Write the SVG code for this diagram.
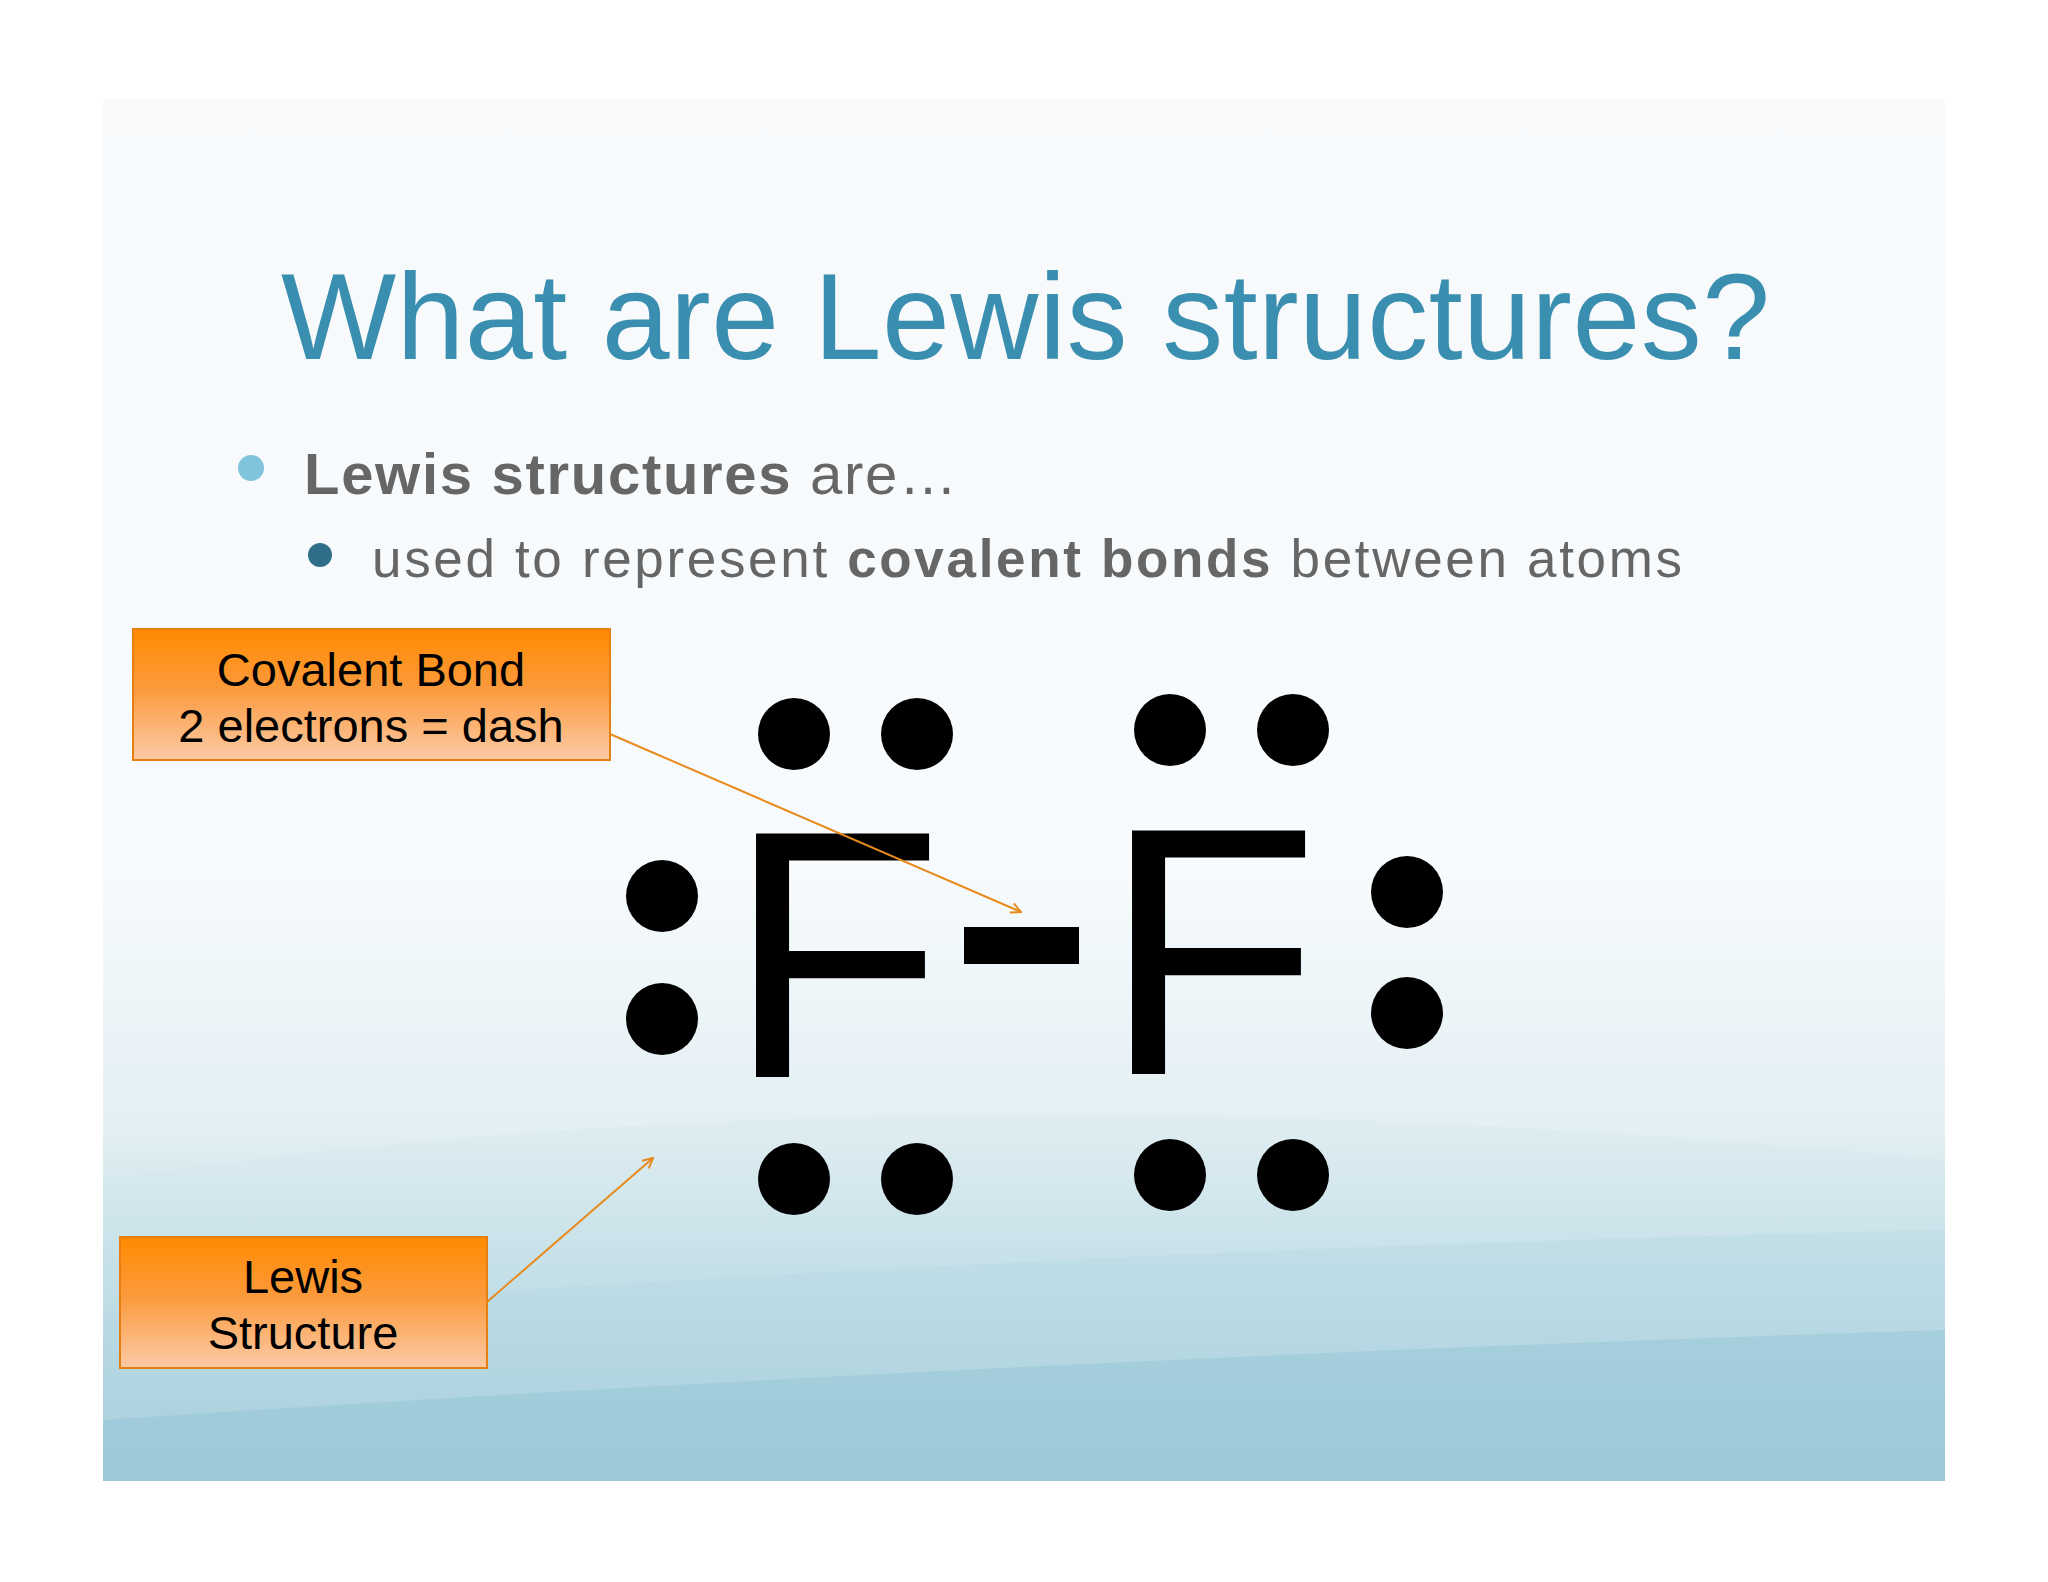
<svg xmlns="http://www.w3.org/2000/svg" width="2048" height="1582" viewBox="0 0 2048 1582">
<defs>
<linearGradient id="bg" x1="0" y1="0" x2="0" y2="1">
<stop offset="0" stop-color="#f7f9fb"/><stop offset="0.55" stop-color="#f8fbfd"/><stop offset="0.75" stop-color="#e2eff3"/><stop offset="1" stop-color="#86bdcf"/>
</linearGradient>
<linearGradient id="org" x1="0" y1="0" x2="0" y2="1">
<stop offset="0" stop-color="#ff8a00"/><stop offset="0.45" stop-color="#fb9a3c"/><stop offset="1" stop-color="#fccaa6"/>
</linearGradient>
<marker id="ah" viewBox="0 0 12 12" refX="11" refY="6" markerWidth="12" markerHeight="12" markerUnits="userSpaceOnUse" orient="auto">
<path d="M1,1 L11,6 L1,11" fill="none" stroke="#e8891c" stroke-width="2"/>
</marker>
<style>
.t{font-family:"Liberation Sans",Arial,sans-serif}
.box{fill:url(#org);stroke:#e57f12;stroke-width:2}
.bl{font-family:"Liberation Sans",Arial,sans-serif;font-size:47px;fill:#000;text-anchor:middle}
.dot{fill:#000}
.F{font-family:"Liberation Sans",Arial,sans-serif;font-size:354px;fill:#000}
.con{stroke:#e8891c;stroke-width:2;fill:none;marker-end:url(#ah)}
</style>
</defs>
<rect width="2048" height="1582" fill="#fff"/>
<rect x="103" y="99" width="1842" height="1382" fill="url(#bg)"/>
<path d="M103,1180 Q900,1060 1945,1160 L1945,1481 L103,1481Z" fill="#d3e7ee" opacity="0.35"/>
<path d="M103,1320 Q1000,1250 1945,1230 L1945,1481 L103,1481Z" fill="#b3d6e1" opacity="0.35"/>
<path d="M103,1420 Q1000,1360 1945,1330 L1945,1481 L103,1481Z" fill="#8cc0d1" opacity="0.4"/>
<text class="t" x="281" y="359" font-size="122" fill="#3a8fb0" textLength="1489" lengthAdjust="spacing">What are Lewis structures?</text>
<circle cx="251" cy="468" r="13" fill="#7fc4dc"/>
<text class="t" x="304" y="494" font-size="58" fill="#666" textLength="653" lengthAdjust="spacing"><tspan font-weight="bold">Lewis structures</tspan> are…</text>
<circle cx="320" cy="555" r="12" fill="#2f6f8a"/>
<text class="t" x="372" y="577" font-size="53" fill="#666" textLength="1310" lengthAdjust="spacing">used to represent <tspan font-weight="bold">covalent bonds</tspan> between atoms</text>
<g id="lewis">
<text class="F" x="727" y="1077">F</text>
<text class="F" x="1103" y="1074">F</text>
<rect x="964" y="927" width="115" height="37" fill="#000"/>
<circle class="dot" cx="794" cy="734" r="36"/><circle class="dot" cx="917" cy="734" r="36"/>
<circle class="dot" cx="1170" cy="730" r="36"/><circle class="dot" cx="1293" cy="730" r="36"/>
<circle class="dot" cx="662" cy="896" r="36"/><circle class="dot" cx="662" cy="1019" r="36"/>
<circle class="dot" cx="1407" cy="892" r="36"/><circle class="dot" cx="1407" cy="1013" r="36"/>
<circle class="dot" cx="794" cy="1179" r="36"/><circle class="dot" cx="917" cy="1179" r="36"/>
<circle class="dot" cx="1170" cy="1175" r="36"/><circle class="dot" cx="1293" cy="1175" r="36"/>
</g>
<g id="box1"><rect class="box" x="133" y="629" width="477" height="131"/>
<text class="bl" x="371" y="686">Covalent Bond</text><text class="bl" x="371" y="742">2 electrons = dash</text></g>
<g id="box2"><rect class="box" x="120" y="1237" width="367" height="131"/>
<text class="bl" x="303" y="1293">Lewis</text><text class="bl" x="303" y="1349">Structure</text></g>
<g id="connectors">
<line class="con" x1="610" y1="734" x2="1021" y2="912"/>
<line class="con" x1="487" y1="1302" x2="653" y2="1158"/>
</g>
</svg>
